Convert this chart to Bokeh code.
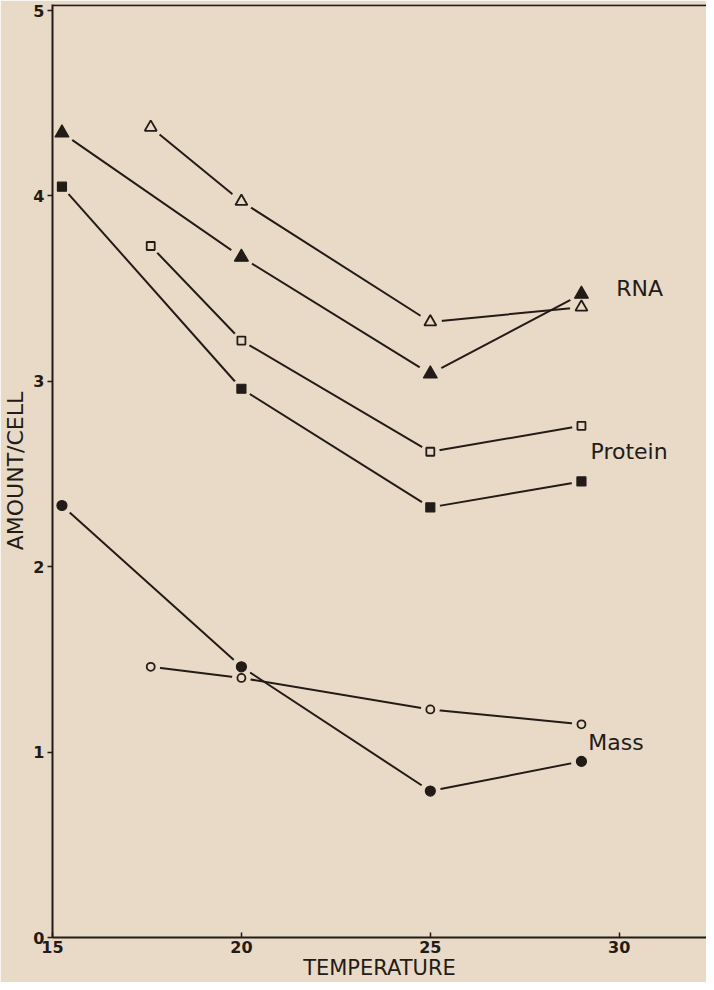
from bokeh.plotting import figure
from bokeh.models import FixedTicker, Span, Label
from bokeh.embed import file_html
from bokeh.resources import INLINE

# ---- data ----
temp_a = [15.25, 20, 25, 29]     # series starting at 15
temp_b = [17.6, 20, 25, 29]      # series starting at 17.5
rna_filled = [4.34, 3.67, 3.04, 3.47]
rna_open = [4.37, 3.97, 3.32, 3.40]
protein_filled = [4.05, 2.96, 2.32, 2.46]
protein_open = [3.73, 3.22, 2.62, 2.76]
mass_filled = [2.33, 1.46, 0.79, 0.95]
mass_open = [1.46, 1.40, 1.23, 1.15]
x_ticks = [15, 20, 25, 30]
y_ticks = [0, 1, 2, 3, 4, 5]
series_labels = ["RNA", "Protein", "Mass"]

BG = "#e8dac6"
INK = "#231b17"

p = figure(width=706, height=982, x_range=(15, 32.31), y_range=(0, 5.0325),
           output_backend="svg", toolbar_location=None,
           min_border_left=46, min_border_right=0, min_border_top=4, min_border_bottom=0)
p.background_fill_color = BG
p.border_fill_color = BG
p.outline_line_color = None
p.grid.visible = False

for ax in (p.xaxis[0], p.yaxis[0]):
    ax.axis_line_color = INK
    ax.axis_line_width = 2
    ax.major_tick_line_color = INK
    ax.major_tick_line_width = 1.5
    ax.minor_tick_line_color = None
    ax.major_label_text_color = INK
    ax.major_label_text_font = "DejaVu Sans"
    ax.major_label_text_font_style = "bold"
    ax.major_label_text_font_size = "16px"
    ax.axis_label_text_color = INK
    ax.axis_label_text_font = "DejaVu Sans"
    ax.axis_label_text_font_style = "normal"

p.xaxis.ticker = FixedTicker(ticks=x_ticks)
p.xaxis.major_tick_in = 5
p.xaxis.major_tick_out = 0
p.xaxis.major_label_standoff = 3
p.xaxis.axis_label = "TEMPERATURE"
p.xaxis.axis_label_text_font_size = "21px"
p.xaxis.axis_label_standoff = 0

p.yaxis.ticker = FixedTicker(ticks=y_ticks)
p.yaxis.major_tick_in = 0
p.yaxis.major_tick_out = 5
p.yaxis.major_label_standoff = 3
p.yaxis.axis_label = "AMOUNT/CELL"
p.yaxis.axis_label_text_font_size = "22px"
p.yaxis.axis_label_standoff = 2

# top frame line
p.add_layout(Span(location=5.029, dimension="width", line_color=INK, line_width=2))

series = [
    (temp_a, rna_filled, "triangle", True, 14),
    (temp_b, rna_open, "triangle", False, 12),
    (temp_a, protein_filled, "square", True, 9),
    (temp_b, protein_open, "square", False, 8),
    (temp_a, mass_filled, "circle", True, 10),
    (temp_b, mass_open, "circle", False, 8),
]

for xs, ys, _, _, _ in series:
    p.line(xs, ys, line_color=INK, line_width=2)

for xs, ys, _, _, sz in series:
    p.scatter(xs, ys, marker="circle", size=sz + 11, fill_color=BG, line_color=None)

for xs, ys, mk, filled, sz in series:
    p.scatter(xs, ys, marker=mk, size=sz,
              fill_color=INK if filled else BG,
              line_color=INK, line_width=1.2 if filled else 1.8)

label_pos = [(29.92, 3.50), (29.24, 2.62), (29.18, 1.05)]
for txt, (lx, ly) in zip(series_labels, label_pos):
    p.add_layout(Label(x=lx, y=ly, text=txt, text_align="left", text_baseline="middle",
                       text_font="DejaVu Sans", text_font_size="22px", text_color=INK))

html = file_html(p, INLINE)
html = html.replace("<body>", '<body style="background:%s;margin:8px 0 0 8px;overflow:hidden">' % BG, 1)
open("out.html", "w").write(html)
